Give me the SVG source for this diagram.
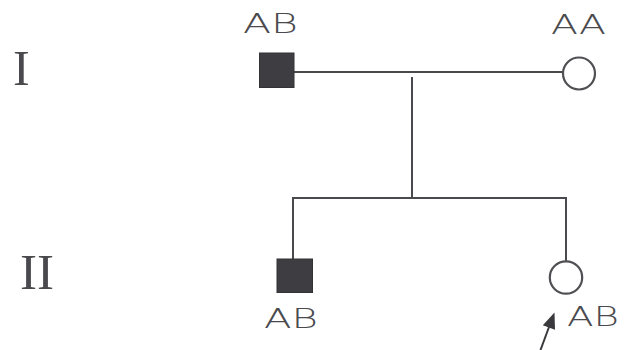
<svg xmlns="http://www.w3.org/2000/svg" width="626" height="350" viewBox="0 0 626 350">
  <style>
    .line { stroke: #4a4a4e; stroke-width: 2; fill: none; }
    .affected { fill: #3d3d42; stroke: #333336; stroke-width: 1; }
    .unaffected { fill: #ffffff; stroke: #505054; stroke-width: 2.2; }
    .geno { font-family: "DejaVu Sans", "Liberation Sans", sans-serif; font-size: 27px; fill: #4a4a4e; font-weight: 200; }
    .gen { font-family: "Liberation Serif", "DejaVu Serif", serif; font-size: 50px; fill: #4a4a4e; }
  </style>

  <rect width="626" height="350" fill="#ffffff"/>

  <!-- generation labels -->
  <text class="gen" x="13" y="85">I</text>
  <text class="gen" x="20" y="289" textLength="34" lengthAdjust="spacingAndGlyphs">II</text>

  <!-- connectors -->
  <g id="connectors">
    <line class="line" x1="294" y1="72" x2="563" y2="72"/>
    <line class="line" x1="412" y1="77" x2="412" y2="198"/>
    <polyline class="line" points="293,259 293,198 566,198 566,262"/>
    <line x1="540.5" y1="350" x2="549" y2="327" stroke="#3a3a3e" stroke-width="2"/>
    <polygon points="554.5,312.5 542.8,325.2 555,329.8" fill="#3a3a3e"/>
  </g>

  <!-- generation I -->
  <g id="father-I1">
    <rect class="affected" x="259.5" y="53" width="34.5" height="34.5"/>
    <text class="geno" x="243" y="33" textLength="55" lengthAdjust="spacingAndGlyphs">AB</text>
  </g>
  <g id="mother-I2">
    <circle class="unaffected" cx="579" cy="73.5" r="16"/>
    <text class="geno" x="551" y="34" textLength="55" lengthAdjust="spacingAndGlyphs">AA</text>
  </g>

  <!-- generation II -->
  <g id="son-II1">
    <rect class="affected" x="277" y="259" width="35.5" height="33.5"/>
    <text class="geno" x="264" y="328" textLength="54" lengthAdjust="spacingAndGlyphs">AB</text>
  </g>
  <g id="daughter-II2">
    <circle class="unaffected" cx="566" cy="277.5" r="16.2"/>
    <text class="geno" x="567" y="326" textLength="52" lengthAdjust="spacingAndGlyphs">AB</text>
  </g>
</svg>
